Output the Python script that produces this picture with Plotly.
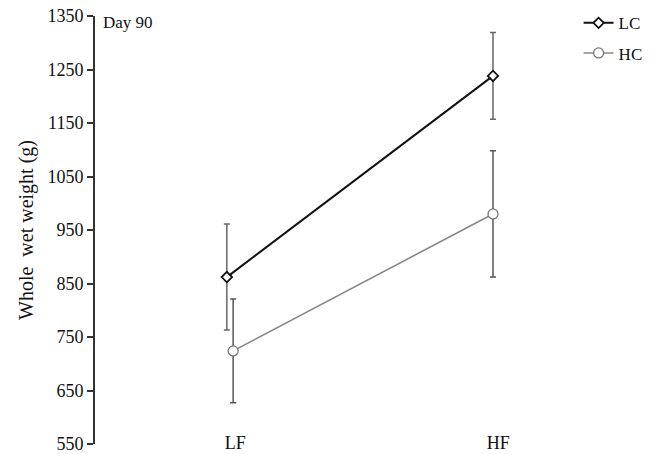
import plotly.graph_objects as go

categories = ["LF", "HF"]
cat_pos = [0, 1]
lc_mean = [862, 1238]
lc_err = [99, 81]
hc_mean = [724, 980]
hc_err = [97, 118]
y_ticks = [550, 650, 750, 850, 950, 1050, 1150, 1250, 1350]

# small horizontal dodge used in the original at LF
lc_dodge = [-0.012, 0.0]
hc_dodge = [0.012, 0.0]

FONT = "Liberation Serif, Times New Roman, serif"

fig = go.Figure()
fig.add_trace(go.Scatter(
    x=[p + d for p, d in zip(cat_pos, lc_dodge)], y=lc_mean, name="LC",
    mode="lines+markers",
    line=dict(color="#111111", width=2),
    marker=dict(symbol="diamond", size=8, color="white", line=dict(color="#111111", width=1.8)),
    error_y=dict(type="data", array=lc_err, color="#666666", thickness=1.5, width=3),
    legendgroup="a",
))
fig.add_trace(go.Scatter(
    x=[p + d for p, d in zip(cat_pos, hc_dodge)], y=hc_mean, name="HC",
    mode="lines+markers",
    line=dict(color="#888888", width=1.6),
    marker=dict(symbol="circle", size=10, color="white", line=dict(color="#777777", width=1.3)),
    error_y=dict(type="data", array=hc_err, color="#555555", thickness=1.5, width=3),
    legendgroup="b",
))

fig.add_annotation(text="Day 90", xref="paper", yref="paper", x=0.013, y=0.985,
                   xanchor="left", yanchor="middle", showarrow=False,
                   font=dict(family=FONT, size=17, color="#111111"))

fig.update_layout(
    width=656, height=454,
    margin=dict(l=95, r=96, t=16, b=10, autoexpand=False),
    paper_bgcolor="white", plot_bgcolor="white",
    font=dict(family=FONT, size=18, color="#111111"),
    showlegend=True,
    legend=dict(x=1.04, y=1.025, xanchor="left", yanchor="top",
                font=dict(family=FONT, size=17, color="#111111"),
                traceorder="grouped", tracegroupgap=5, bgcolor="rgba(0,0,0,0)"),
    xaxis=dict(range=[-0.5133, 1.2548], tickvals=[p + 0.02 for p in cat_pos], ticktext=categories,
               showline=False, showgrid=False, zeroline=False, ticks="",
               anchor="free", position=0.033, automargin=False,
               tickfont=dict(family=FONT, size=18, color="#111111")),
    yaxis=dict(range=[550, 1350], tickvals=y_ticks, showline=True, linecolor="#333333", linewidth=2,
               ticks="outside", ticklen=6, tickwidth=1.5, tickcolor="#333333",
               showgrid=False, zeroline=False, automargin=False, ticklabeloverflow="allow",
               tickfont=dict(family=FONT, size=18, color="#111111"),
               title=dict(text="Whole  wet weight (g)", font=dict(family=FONT, size=20, color="#111111"),
                          standoff=8)),
)

fig.write_html("out.html")
